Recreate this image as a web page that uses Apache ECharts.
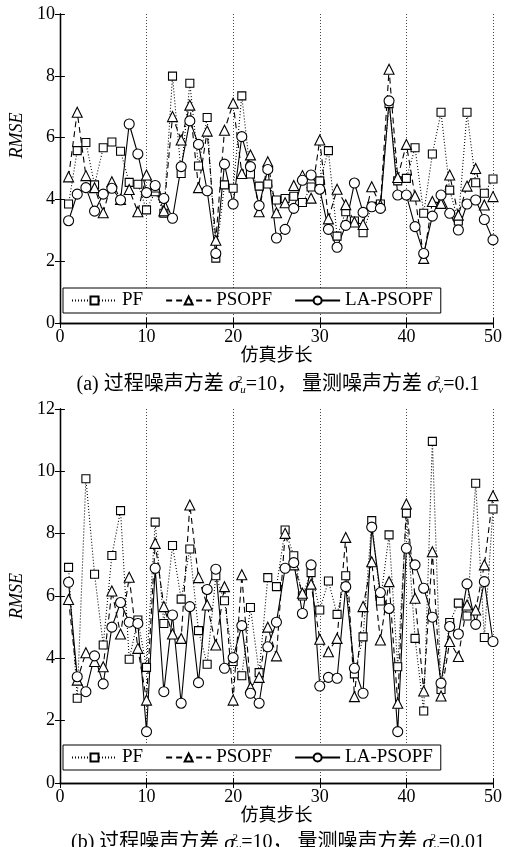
<!DOCTYPE html>
<html>
<head>
<meta charset="utf-8">
<script src="https://cdn.jsdelivr.net/npm/echarts@6/dist/echarts.min.js"></script>
<style>
  html, body { margin: 0; padding: 0; background: #fff; }
  #main { width: 505px; height: 847px; }
</style>
</head>
<body>
<div id="main"></div>
<script>
// 仿真步长
const steps = [1,2,3,4,5,6,7,8,9,10,11,12,13,14,15,16,17,18,19,20,
  21,22,23,24,25,26,27,28,29,30,31,32,33,34,35,36,37,38,39,40,
  41,42,43,44,45,46,47,48,49,50];

// (a) σu²=10, σv²=0.1
const pfA = [3.85,5.58,5.84,4.47,5.67,5.86,5.56,4.55,4.49,3.66,
  4.25,3.55,7.99,4.84,7.76,5.08,6.65,2.10,4.47,4.36,
  7.35,4.82,4.43,4.50,3.98,4.03,4.10,3.90,4.40,4.60,
  5.58,2.81,3.60,3.30,2.92,3.78,3.85,7.10,4.60,4.68,
  5.67,3.55,5.47,6.82,4.30,3.30,6.82,4.54,4.20,4.66];
const psoA = [4.73,6.82,4.77,4.38,3.57,4.57,4.00,4.32,3.60,4.79,
  4.40,3.63,6.68,5.92,7.05,4.38,6.21,2.68,6.24,7.11,
  4.84,5.44,3.60,5.22,3.57,3.89,4.45,4.77,4.04,5.92,
  3.37,4.33,3.83,3.27,3.19,4.41,3.82,8.21,4.71,5.78,
  4.11,2.09,3.93,3.87,4.79,3.49,4.43,5.00,3.82,4.09];
const laA = [3.31,4.17,4.38,3.62,4.17,4.36,3.98,6.44,5.47,4.22,
  4.45,4.03,3.39,5.06,6.54,5.78,4.28,2.25,5.14,3.85,
  6.03,5.06,3.80,4.97,2.75,3.03,3.71,4.62,4.79,4.33,
  3.03,2.45,3.16,4.53,3.58,3.76,3.71,7.19,4.14,4.14,
  3.12,2.25,3.46,4.14,3.55,3.01,3.85,3.98,3.35,2.69];

// (b) σu²=10, σv²=0.01
const pfB = [6.92,2.72,9.76,6.70,4.43,7.30,8.74,3.97,5.23,3.71,
  8.37,5.12,7.62,5.90,7.51,4.89,3.81,6.65,5.85,3.90,
  3.44,5.63,3.54,6.59,6.30,8.12,7.29,6.00,6.75,5.55,
  6.48,5.41,6.65,3.50,4.69,8.42,5.84,7.96,3.73,8.66,
  4.64,2.31,10.96,3.00,5.15,5.77,5.36,9.62,4.67,8.79];
const psoB = [5.89,3.30,4.18,3.90,3.73,6.16,4.78,6.60,4.32,2.66,
  7.69,5.66,4.78,4.64,8.92,6.59,5.71,4.43,6.30,2.66,
  6.68,3.07,3.39,5.00,4.08,8.01,7.00,6.09,6.38,4.61,
  4.21,4.64,7.88,2.77,5.66,7.10,4.59,6.46,2.56,8.95,
  5.93,2.95,7.42,2.79,4.54,4.06,5.71,5.55,7.00,9.22];
const laB = [6.44,3.41,2.93,4.08,3.18,5.00,5.79,5.16,5.12,1.65,
  6.89,2.93,5.39,2.56,5.66,3.22,6.21,6.86,3.68,4.02,
  5.05,2.88,2.56,4.37,5.16,6.89,7.07,5.44,7.00,3.11,
  3.39,3.36,6.30,3.68,2.88,8.21,6.11,5.60,1.65,7.53,
  7.00,6.25,5.32,3.20,5.02,4.78,6.39,5.09,6.46,4.54];

const names = ['PF', 'PSOPF', 'LA-PSOPF'];

const SERIF = "'Liberation Serif', 'DejaVu Serif', serif";
const CJK = "'Liberation Serif', 'Noto Sans CJK SC', sans-serif";

const chart = echarts.init(document.getElementById('main'));

function pairs(ys) {
  return steps.map((s, i) => [s, ys[i]]);
}

// 坐标轴：下/上 x 轴，左/右 y 轴（刻度朝里）
function xAxes(g) {
  return [
    {
      gridIndex: g, type: 'value', min: 0, max: 50, interval: 10, position: 'bottom',
      axisLine: { show: true, lineStyle: { color: '#000', width: 1.3 } },
      axisTick: { show: true, inside: true, length: 5, lineStyle: { color: '#000' } },
      axisLabel: { margin: 5, color: '#000', fontFamily: SERIF, fontSize: 18 },
      splitLine: { show: true, lineStyle: { color: '#444', type: [1, 2], width: 1 } },
      name: '仿真步长', nameLocation: 'middle', nameGap: 21,
      nameTextStyle: { fontFamily: CJK, fontSize: 18, color: '#000', verticalAlign: 'top' }
    },
    {
      gridIndex: g, type: 'value', min: 0, max: 50, interval: 10, position: 'top',
      axisLine: { show: true, lineStyle: { color: '#000', width: 1.3 } },
      axisTick: { show: true, inside: true, length: 5, lineStyle: { color: '#000' } },
      axisLabel: { show: false }, splitLine: { show: false }
    }
  ];
}

function yAxes(g, max, namePad) {
  return [
    {
      gridIndex: g, type: 'value', min: 0, max: max, interval: 2, position: 'left',
      axisLine: { show: true, lineStyle: { color: '#000', width: 1.3 } },
      axisTick: { show: true, inside: true, length: 5, lineStyle: { color: '#000' } },
      axisLabel: { margin: 5, color: '#000', fontFamily: SERIF, fontSize: 18 },
      splitLine: { show: false },
      name: 'RMSE', nameLocation: 'middle', nameGap: 22,
      nameTextStyle: { fontFamily: SERIF, fontStyle: 'italic', fontSize: 18, color: '#000', padding: namePad }
    },
    {
      gridIndex: g, type: 'value', min: 0, max: max, interval: 2, position: 'right',
      axisLine: { show: true, lineStyle: { color: '#000', width: 1.3 } },
      axisTick: { show: true, inside: true, length: 5, lineStyle: { color: '#000' } },
      axisLabel: { show: false }, splitLine: { show: false }
    }
  ];
}

function lineSeries(name, ys, axisIdx) {
  const look = {
    'PF': { symbol: 'rect', size: 8, type: [1, 2] },
    'PSOPF': { symbol: 'triangle', size: 10, type: [6, 4] },
    'LA-PSOPF': { symbol: 'circle', size: 10, type: 'solid' }
  }[name];
  return {
    name: name, type: 'line', xAxisIndex: axisIdx, yAxisIndex: axisIdx,
    data: pairs(ys), symbol: look.symbol, symbolSize: look.size, showAllSymbol: true,
    lineStyle: { color: '#000', width: 1.1, type: look.type },
    itemStyle: { color: '#fff', borderColor: '#000', borderWidth: 1.1 },
    emphasis: { disabled: true }, animation: false
  };
}

function legendAt(top) {
  return {
    data: names, left: 63, top: top, orient: 'horizontal',
    backgroundColor: '#fff', borderColor: '#000', borderWidth: 1,
    padding: [3, 8], itemWidth: 45, itemHeight: 10, itemGap: 22,
    textStyle: { fontFamily: SERIF, fontSize: 19, color: '#000' }
  };
}

const capRich = {
  s: { fontFamily: SERIF, fontStyle: 'italic', fontSize: 21, fill: '#000' },
  sup: { fontFamily: SERIF, fontSize: 11, verticalAlign: 'top', width: 1, fill: '#000' },
  sub: { fontFamily: SERIF, fontStyle: 'italic', fontSize: 11, verticalAlign: 'bottom', fill: '#000' }
};

function caption(y, text) {
  return {
    type: 'text', x: 278, y: y,
    style: {
      text: text, fontFamily: CJK, fontSize: 20, fill: '#000',
      align: 'center', verticalAlign: 'middle', rich: capRich
    }
  };
}

chart.setOption({
  backgroundColor: '#fff',
  animation: false,
  grid: [
    { left: 56, top: 14, width: 440, height: 309 },
    { left: 56, top: 409, width: 440, height: 374 }
  ],
  xAxis: xAxes(0).concat(xAxes(1)),
  yAxis: yAxes(0, 10, [0, 0, 0, 66]).concat(yAxes(1, 12, 0)),
  legend: [legendAt(288), legendAt(745)],
  series: [
    lineSeries('PF', pfA, 0),
    lineSeries('PSOPF', psoA, 0),
    lineSeries('LA-PSOPF', laA, 0),
    lineSeries('PF', pfB, 2),
    lineSeries('PSOPF', psoB, 2),
    lineSeries('LA-PSOPF', laB, 2)
  ],
  graphic: [
    caption(385, '(a) 过程噪声方差 {s|σ}{sup|2}{sub|u}=10， 量测噪声方差 {s|σ}{sup|2}{sub|v}=0.1'),
    caption(843, '(b) 过程噪声方差 {s|σ}{sup|2}{sub|u}=10， 量测噪声方差 {s|σ}{sup|2}{sub|v}=0.01')
  ]
});
</script>
</body>
</html>
